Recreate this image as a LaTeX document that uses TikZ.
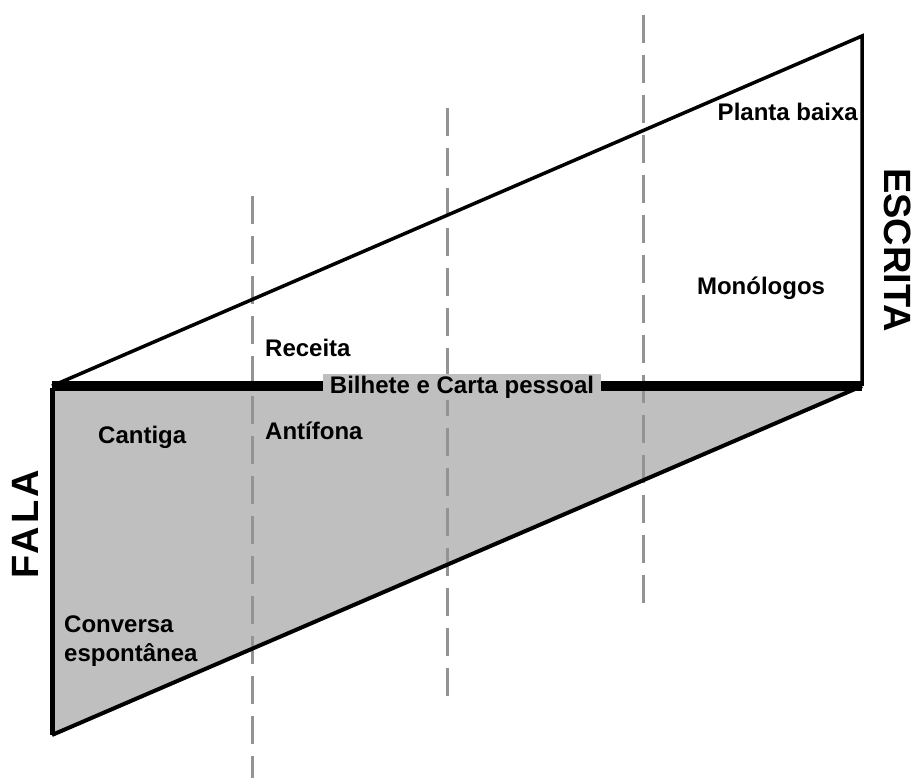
\documentclass[tikz,border=0pt]{standalone}
\usepackage{fontspec}
\setmainfont{Liberation Sans}
\tikzset{
  lbl/.style={font=\fontsize{24}{29}\selectfont\bfseries, inner sep=0pt},
  big/.style={font=\fontsize{38}{42}\selectfont\bfseries, inner sep=0pt},
  guide/.style={draw=gray!85, line width=3pt, dash pattern=on 28pt off 12pt},
}

\begin{document}
\begin{tikzpicture}[x=1pt,y=-1pt]
        \useasboundingbox (0,0) rectangle (914,778);
        \coordinate (tl) at (52,386);
        \coordinate (tr) at (862,36);
        \coordinate (br) at (862,386);
        \coordinate (bl) at (52,735);
        % fala
        \fill [gray!50] (tl)--(br)--(bl)--cycle;
        % linhas tracejadas
        \coordinate (g1a) at (252,196); \coordinate (g1b) at (252,778);
        \coordinate (g2a) at (447,108); \coordinate (g2b) at (447,700);
        \coordinate (g3a) at (643,15);  \coordinate (g3b) at (643,605);
        \draw [guide] (g1a)--(g1b);
        \draw [guide] (g2a)--(g2b);
        \draw [guide] (g3a)--(g3b);
        % contorno
        \draw [line width=3.5pt,line join=miter] (tl)--(tr)--(br);
        \draw [line width=5pt] ([yshift=-2pt]tl)--(bl);
        \draw [line width=4pt] (bl)--(br);
        \draw [line width=9pt] (tl)--(br);
        \node [lbl, fill=gray!50, minimum width=278pt, minimum height=25pt] (bilhete) at (462,387) {Bilhete e Carta pessoal};
        \node [lbl, anchor=east] (planta) at (858,112) {Planta baixa};
        \node [lbl] (monologos) at (761,288) {Monólogos};
        \node [lbl, anchor=west] (receita) at (265,348) {Receita};
        \node [lbl, anchor=west] (antifona) at (265,431) {Antífona};
        \node [lbl, anchor=west] (cantiga) at (98,437) {Cantiga};
        \node [lbl, anchor=west, align=left] (conversa) at (64,641) {Conversa\\espontânea};
        \node [big, rotate=-90] (escrita) at (898,250) {ESCRITA};
        \node [big, rotate=90] (fala) at (25,524) {\addfontfeature{LetterSpace=8}FALA};
      \end{tikzpicture}
\end{document}
